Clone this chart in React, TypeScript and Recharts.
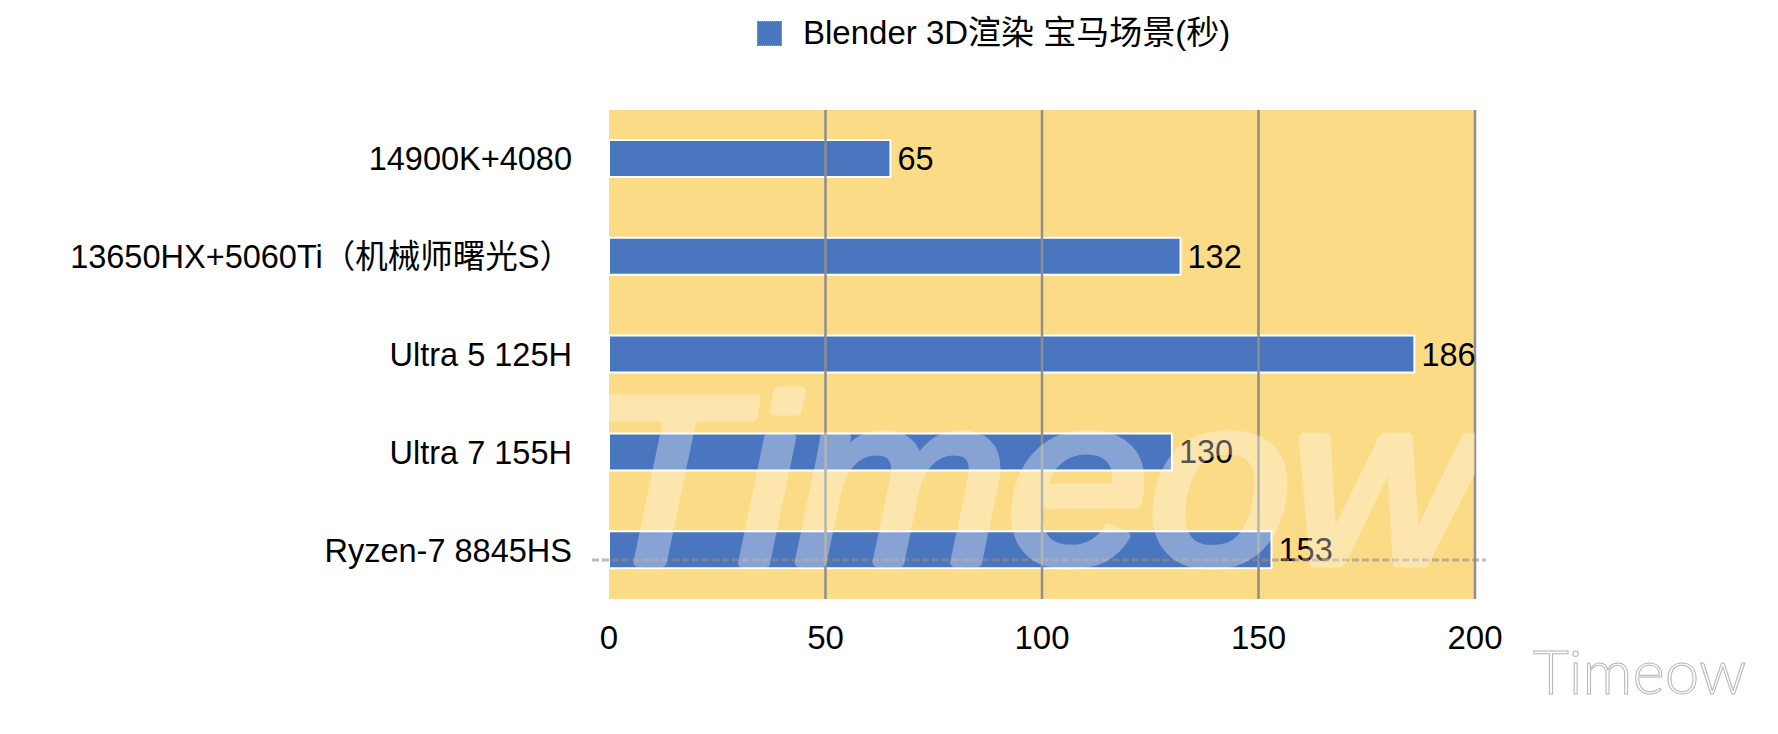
import React from 'react';
import { BarChart, Bar, XAxis, YAxis, CartesianGrid, ReferenceLine, LabelList } from 'recharts';

const categories = ['14900K+4080', '13650HX+5060Ti（机械师曙光S）', 'Ultra 5 125H', 'Ultra 7 155H', 'Ryzen-7 8845HS'];
const renderSeconds = [65, 132, 186, 130, 153];
const xTicks = [0, 50, 100, 150, 200];
const gridValues = [50, 100, 150, 200];
const seriesName = 'Blender 3D渲染 宝马场景(秒)';

const data = categories.map((name, i) => ({ name, value: renderSeconds[i] }));

const FONT = '"Liberation Sans", Arial, Helvetica, "Noto Sans CJK SC", sans-serif';
const W = 1778;
const H = 734;
const PLOT_L = 609;
const PLOT_T = 110;
const PLOT_R = 1475;
const PLOT_B = 599;
const X_AXIS_H = 60;

export default function App() {
  return (
    <div style={{ position: 'absolute', left: 0, top: 0, width: W, height: H, background: '#fff', fontFamily: FONT, overflow: 'hidden' }}>
      {/* legend */}
      <div style={{ position: 'absolute', left: 757, top: 21, width: 25, height: 25, background: '#4a76c0', boxSizing: 'border-box', border: '1px dotted #8fa8d8' }} />
      <div style={{ position: 'absolute', left: 803, top: 13, fontSize: 33, lineHeight: '40px', color: '#000', whiteSpace: 'nowrap' }}>{seriesName}</div>

      <BarChart
        width={W}
        height={H}
        data={data}
        layout="vertical"
        margin={{ top: PLOT_T, bottom: H - PLOT_B - X_AXIS_H, left: 0, right: W - PLOT_R }}
        barSize={37}
      >
        <CartesianGrid horizontal={false} vertical={false} fill="#fcdb87" stroke="none" />
        <XAxis
          type="number"
          domain={[0, 200]}
          ticks={xTicks}
          height={X_AXIS_H}
          axisLine={false}
          tickLine={false}
          tickSize={0}
          tickMargin={27}
          tick={{ fontSize: 33, fill: '#000', fontFamily: FONT }}
          interval={0}
        />
        <YAxis
          type="category"
          dataKey="name"
          width={PLOT_L}
          axisLine={false}
          tickLine={false}
          tickSize={0}
          tickMargin={37}
          tick={{ fontSize: 32.5, fill: '#000', fontFamily: FONT }}
          interval={0}
        />
        {gridValues.map((v) => (
          <ReferenceLine key={v} x={v} stroke="#8e8e8e" strokeWidth={2.5} ifOverflow="visible" />
        ))}
        <Bar dataKey="value" fill="#4a76c0" stroke="#ffffff" strokeWidth={2} isAnimationActive={false}>
          <LabelList dataKey="value" position="right" offset={7} style={{ fontSize: 32.5, fill: '#000', fontFamily: FONT }} />
        </Bar>
      </BarChart>

      {/* dotted artifact line */}
      <svg style={{ position: 'absolute', left: 0, top: 0 }} width={W} height={H}>
        <line x1={592} x2={1486} y1={560} y2={560} stroke="#9a8a80" strokeOpacity={0.6} strokeWidth={3} strokeDasharray="7 3" />
      </svg>

      {/* big watermark */}
      <div style={{ position: 'absolute', left: PLOT_L, top: PLOT_T, width: PLOT_R - PLOT_L, height: PLOT_B - PLOT_T, overflow: 'hidden', pointerEvents: 'none' }}>
        <svg width={PLOT_R - PLOT_L} height={PLOT_B - PLOT_T}>
          <g opacity={0.33} transform="scale(1.07,1)">
            <text x={-22} y={563 - PLOT_T} fontSize={238} fontStyle="italic" fontFamily={FONT} fill="#ffffff" stroke="#ffffff" strokeWidth={9} strokeLinejoin="round">Timeow</text>
          </g>
        </svg>
      </div>

      {/* corner watermark */}
      <svg style={{ position: 'absolute', left: 0, top: 0 }} width={W} height={H}>
        <text x={1533} y={694} fontSize={62} fontFamily='Lato, "Liberation Sans", sans-serif' fontWeight={300} fill="#ffffff" stroke="#b5b5b5" strokeWidth={1}>Timeow</text>
      </svg>
    </div>
  );
}
